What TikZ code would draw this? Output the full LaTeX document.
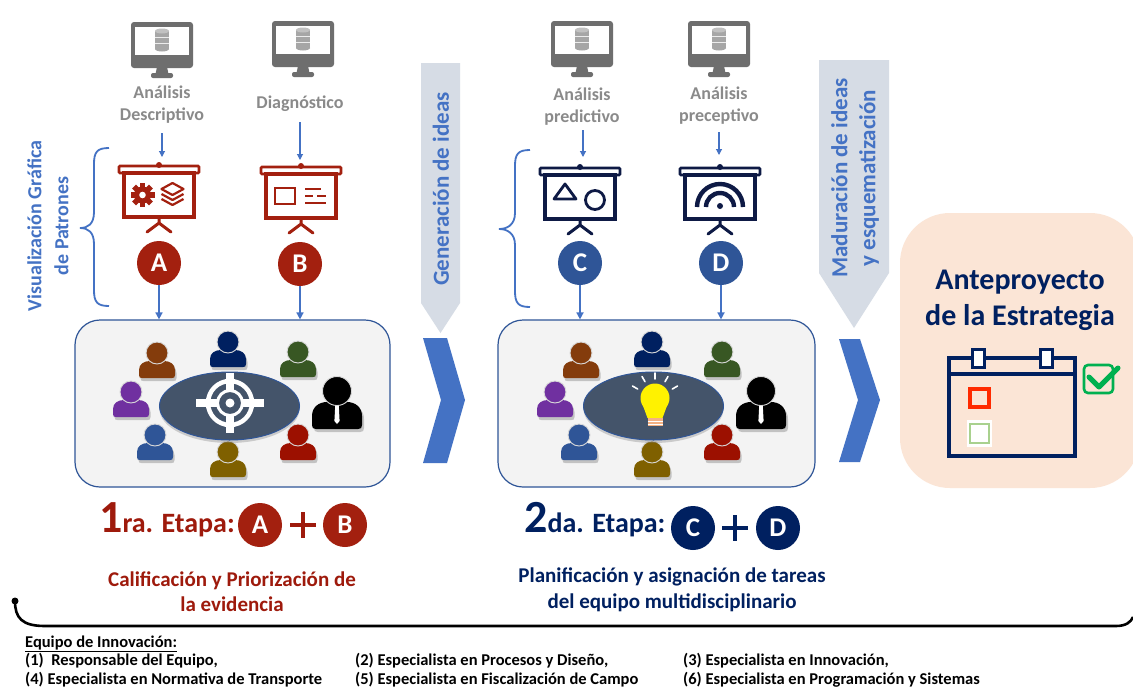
\documentclass[tikz,border=0pt]{standalone}
\usepackage{fontspec}
\setmainfont{Carlito}
\usetikzlibrary{arrows.meta,shadows}

\definecolor{accblue}{HTML}{4472C4}
\definecolor{stagered}{HTML}{9E1A0C}
\definecolor{boardred}{HTML}{A3200F}
\definecolor{navy}{HTML}{002060}
\definecolor{boardnavy}{HTML}{0E1A45}
\definecolor{midblue}{HTML}{2F5597}
\definecolor{slate}{HTML}{44546A}
\definecolor{arrowfill}{HTML}{D6DCE5}
\definecolor{peach}{HTML}{FBE5D6}
\definecolor{txtgray}{HTML}{8A8A8A}
\definecolor{mongray}{HTML}{6E6E6E}
\definecolor{dbgray}{HTML}{A6A6A6}
\definecolor{boxgray}{HTML}{F3F3F3}
\definecolor{pbrown}{HTML}{843C0C}
\definecolor{pnavy}{HTML}{002060}
\definecolor{pgreen}{HTML}{385723}
\definecolor{ppurple}{HTML}{7030A0}
\definecolor{pblue}{HTML}{2F5597}
\definecolor{polive}{HTML}{7F6000}
\definecolor{pred}{HTML}{9C1000}
\definecolor{chkgreen}{HTML}{00B050}
\definecolor{calred}{HTML}{FF2A00}
\definecolor{lightgreen}{HTML}{A9D18E}
\definecolor{bulbbase}{HTML}{F4B183}

\newcommand\setfs[2]{\fontsize{#1}{#2}\selectfont}

\tikzset{
  lbl/.style={inner sep=0pt, align=center},
  feed/.style={accblue, line width=1.1pt, -{Triangle[length=6pt,width=6pt]}},
  drop/.style={accblue, line width=1.6pt, -{Triangle[length=7pt,width=7pt]}},
  lettercirc/.style={circle, minimum size=44pt, inner sep=0pt, text=white,
    font=\bfseries\setfs{27}{27}},
  meetbox/.style={draw=midblue, line width=1.2pt, rounded corners=25pt, fill=boxgray},
  vlabel/.style={lbl, rotate=90, text=accblue, font=\bfseries\setfs{23}{28}},
  brace/.style={accblue, line width=1.8pt},
  pics/monitor/.style={code={
    \fill[mongray, rounded corners=3pt] (-31,0) rectangle (31,46);
    \fill[white] (-27,5) rectangle (27,33);
    \fill[mongray] (-5,45) -- (5,45) -- (6.5,52) -- (-6.5,52) -- cycle;
    \fill[mongray, rounded corners=2pt] (-11,51) rectangle (11,56);
    \fill[dbgray] (-7,9) rectangle (7,27);
    \fill[dbgray] (0,27) ellipse (7 and 2.5);
    \fill[dbgray!70] (0,9) ellipse (7 and 2.5);
    \draw[white!85!gray, line width=0.8] (-7,15) -- (7,15) (-7,21) -- (7,21);
  }},
  pics/board/.style={code={
    \draw[#1, line width=2.6, fill=white, rounded corners=1pt] (-40,2) rectangle (40,9);
    \fill[#1] (0,1) circle (3);
    \draw[#1, line width=3.4, fill=white] (-35,9) rectangle (35,53);
    \draw[#1, line width=3, line cap=round] (0,53) -- (0,59) (-12,68) -- (0,59) -- (12,68);
  }},
  pics/person/.style={code={
    \fill[black, opacity=.2]
      (-16.5,25) .. controls (-16.5,27.5) and (-15.5,28) .. (-13.5,28) -- (16.5,28)
      .. controls (18.5,28) and (19.5,27.5) .. (19.5,25) -- (19.5,20)
      .. controls (19.5,14) and (14.5,11) .. (8.5,11) -- (-5.5,11)
      .. controls (-11.5,11) and (-16.5,14) .. (-16.5,20) -- cycle;
    \fill[#1] (-18,22) .. controls (-18,24.5) and (-17,25) .. (-15,25) -- (15,25)
      .. controls (17,25) and (18,24.5) .. (18,22) -- (18,17)
      .. controls (18,11) and (13,8) .. (7,8) -- (-7,8)
      .. controls (-13,8) and (-18,11) .. (-18,17) -- cycle;
    \fill[#1] (0,0) circle (11);
    \draw[white!70!gray, line width=0.9] (0,0) circle (11);
  }},
  pics/boss/.style={code={
    \fill[black, opacity=.2] (-23,37) .. controls (-23,40) and (-22,41) .. (-19,41) -- (23,41)
      .. controls (26,41) and (27,40) .. (27,37) -- (27,28)
      .. controls (27,19) and (20,14) .. (12,14) -- (-8,14)
      .. controls (-16,14) and (-23,19) .. (-23,28) -- cycle;
    \fill[black] (-25,34) .. controls (-25,37) and (-24,38) .. (-21,38) -- (21,38)
      .. controls (24,38) and (25,37) .. (25,34) -- (25,25)
      .. controls (25,16) and (18,11) .. (10,11) -- (-10,11)
      .. controls (-18,11) and (-25,16) .. (-25,25) -- cycle;
    \fill[white] (-1.8,15) -- (1.8,15) -- (2.6,30) -- (0,33) -- (-2.6,30) -- cycle;
    \fill[black] (0,0) circle (14.5);
    \draw[white!70!gray, line width=0.9] (0,0) circle (14.5);
  }},
  pics/target/.style={code={
    \draw[white, line width=4.5] (0,0) circle (22);
    \draw[white, line width=3] (0,0) circle (12.5);
    \fill[white] (0,0) circle (4.5);
    \draw[white, line width=8] (-34,0) -- (-12,0) (12,0) -- (34,0)
      (0,-30) -- (0,-12) (0,12) -- (0,30);
  }},
  pics/bulb/.style={code={
    \fill[yellow] (0,-1) circle (14.5);
    \fill[yellow] (-13,4) -- (13,4) -- (7.5,19) -- (-7.5,19) -- cycle;
    \fill[bulbbase] (-7.5,19) rectangle (7.5,27);
    \draw[white, line width=1] (-7.5,22) -- (7.5,22) (-7.5,25) -- (7.5,25);
    \foreach \a in {-150,-120,-90,-60,-30}
      \draw[white, line width=1.6, line cap=round] (\a:20) -- (\a:26);
  }},
}

\newcommand\meetingscene{%
  \pic at (157,353) {person=pbrown};
  \pic at (228,342) {person=pnavy};
  \pic at (298,352) {person=pgreen};
  \pic at (131,392) {person=ppurple};
  \pic at (155,435) {person=pblue};
  \pic at (228,452) {person=polive};
  \pic at (298,435) {person=pred};
  \pic at (337,391) {boss};
}

\begin{document}
\begin{tikzpicture}[x=1pt,y=-1pt]
\useasboundingbox (0,0) rectangle (1133,689);
\fill[white] (0,0) rectangle (1133,689);

% ---------- data sources ----------
\pic at (162,22) {monitor};
\pic at (303,21) {monitor};
\pic at (582,21) {monitor};
\pic at (719,21) {monitor};

\begin{scope}[every node/.style={lbl, text=txtgray, font=\bfseries\setfs{18}{22}}]
  \node (lA) at (162,105) {Análisis\\Descriptivo};
  \node (lB) at (300,104) {Diagnóstico};
  \node (lC) at (582,107) {Análisis\\predictivo};
  \node (lD) at (719,106) {Análisis\\preceptivo};
\end{scope}

\coordinate (fA0) at (162,133); \coordinate (fA1) at (162,157);
\coordinate (fB0) at (300,122); \coordinate (fB1) at (300,160);
\coordinate (fC0) at (583,130); \coordinate (fC1) at (583,157);
\coordinate (fD0) at (719,132); \coordinate (fD1) at (719,155);
\draw[feed] (fA0) -- (fA1);
\draw[feed] (fB0) -- (fB1);
\draw[feed] (fC0) -- (fC1);
\draw[feed] (fD0) -- (fD1);

% ---------- presentation boards ----------
\pic at (159,164) {board=boardred};
\pic at (301,165) {board=boardred};
\pic at (580,166) {board=boardnavy};
\pic at (720,166) {board=boardnavy};

% board A: gear and layers
\begin{scope}[shift={(142.5,195)}]
  \fill[boardred] (0,0) circle (8.5);
  \foreach \a in {0,45,...,315}
    \fill[boardred, rotate=\a] (-2.7,-12) rectangle (2.7,-7);
  \fill[white] (0,0) circle (3.3);
\end{scope}
\begin{scope}[shift={(172.5,195)}, boardred, line width=2.2, line join=round]
  \draw[fill=white] (0,-12) -- (11,-6) -- (0,0) -- (-11,-6) -- cycle;
  \draw (-11,-1) -- (0,5) -- (11,-1);
  \draw (-11,4) -- (0,10) -- (11,4);
\end{scope}
% board B: media and text lines
\draw[boardred, line width=2.6] (275,188) rectangle (295,204);
\draw[boardred, line width=2.4] (305,189) -- (321,189) (305,196) -- (313,196) (317,196) -- (326,196) (305,203) -- (326,203);
% board C: shapes
\draw[boardnavy, line width=2.8, line join=round] (565,184) -- (576,199) -- (554,199) -- cycle;
\draw[boardnavy, line width=2.8] (595,200) circle (9.5);
% board D: signal arcs
\draw[boardnavy, line width=4.4] (697,207) arc[start angle=180, end angle=360, radius=23];
\draw[boardnavy, line width=4.4] (706,207) arc[start angle=180, end angle=360, radius=14];
\fill[boardnavy] (720,206) circle (3);

% ---------- letter circles ----------
\node[lettercirc, fill=boardred] (cA) at (159,263) {A};
\node[lettercirc, fill=boardred] (cB) at (300,264) {B};
\node[lettercirc, fill=midblue] (cC) at (580,263) {C};
\node[lettercirc, fill=midblue] (cD) at (721,263) {D};

% ---------- meeting boxes ----------
\node[meetbox, minimum width=315pt, minimum height=167pt] (box1) at (232.5,403.5) {};
\node[meetbox, minimum width=317pt, minimum height=167pt] (box2) at (656.5,403.5) {};

\draw[drop] (cA.south) -- (cA.south |- box1.north);
\draw[drop] (cB.south) -- (cB.south |- box1.north);
\draw[drop] (cC.south) -- (cC.south |- box2.north);
\draw[drop] (cD.south) -- (cD.south |- box2.north);

% team around the table, stage 1
\meetingscene
\fill[slate, drop shadow={opacity=.35, shadow xshift=0pt, shadow yshift=-3pt}]
  (229.5,406) ellipse (70 and 34);
\draw[midblue, line width=1] (229.5,406) ellipse (70 and 34);
\pic at (230,403) {target};

% team around the table, stage 2
\begin{scope}[shift={(424,0)}]
  \meetingscene
  \fill[slate, drop shadow={opacity=.35, shadow xshift=0pt, shadow yshift=-3pt}]
    (229.5,406) ellipse (70 and 34);
  \draw[midblue, line width=1] (229.5,406) ellipse (70 and 34);
  \pic at (231,399) {bulb};
\end{scope}

% ---------- braces ----------
\draw[brace] (109,148) .. controls (97,148) and (94,152) .. (94,164) -- (94,212)
  .. controls (94,224) and (88,228) .. (80,228) .. controls (88,228) and (94,232) .. (94,244)
  -- (94,290) .. controls (94,302) and (97,306) .. (109,306);
\draw[brace] (530,150) .. controls (518,150) and (515,154) .. (515,166) -- (515,213)
  .. controls (515,225) and (507,229) .. (499,229) .. controls (507,229) and (515,233) .. (515,245)
  -- (515,291) .. controls (515,303) and (518,307) .. (530,307);

\node[vlabel, font=\bfseries\setfs{20}{27}] (vis) at (48,226) {Visualización Gráfica\\de Patrones};

% ---------- transition arrows ----------
\fill[arrowfill] (421,63) -- (460,63) -- (460,303) -- (440.5,333) -- (421,303) -- cycle;
\node[vlabel] (gen) at (441,189) {Generación de ideas};
\fill[arrowfill] (819,60) -- (889,60) -- (889,273) -- (854,328) -- (819,273) -- cycle;
\node[vlabel] (mad) at (855,178) {Maduración de ideas\\y esquematización};

\fill[accblue] (423,338) -- (447,338) -- (465,400) -- (447,463) -- (423,463) -- (441,400) -- cycle;
\fill[accblue] (839,339) -- (860,339) -- (880,400) -- (860,462) -- (839,462) -- (858,400) -- cycle;

% ---------- result ----------
\fill[peach, rounded corners=50pt] (900,213) rectangle (1140,488);
\node[lbl, text=navy, font=\bfseries\setfs{30}{36}] (ante) at (1020,300) {Anteproyecto\\de la Estrategia};
\draw[navy, line width=3.5] (949,358) rectangle (1075,456);
\draw[navy, line width=3.5] (949,374) -- (1075,374);
\draw[navy, line width=3, fill=white] (972,349) rectangle (984,367);
\draw[navy, line width=3, fill=white] (1040,349) rectangle (1052,367);
\draw[calred, line width=3.5] (970,389) rectangle (989,407);
\fill[white] (967,420) rectangle (992,447);
\draw[lightgreen, line width=1.4] (970,424) rectangle (989,443);
\draw[chkgreen, line width=2.6, rounded corners=4pt] (1084,365) rectangle (1113,393);
\draw[chkgreen, line width=5, line cap=round, line join=round] (1089,377) -- (1099,387) -- (1118,368);

% ---------- stages ----------
\node[anchor=base west, inner sep=0pt, text=stagered, font=\bfseries] (st1) at (99,532)
  {\setfs{46}{46}1\setfs{28}{28}ra. Etapa:};
\node[lettercirc, fill=boardred] (sA) at (260,525) {A};
\node[lettercirc, fill=boardred] (sB) at (345,525) {B};
\draw[stagered, line width=3.5] (290,525) -- (316,525) (303,512) -- (303,538);

\node[anchor=base west, inner sep=0pt, text=navy, font=\bfseries] (st2) at (524,532)
  {\setfs{46}{46}2\setfs{28}{28}da. Etapa:};
\node[lettercirc, fill=navy] (sC) at (693,528) {C};
\node[lettercirc, fill=navy] (sD) at (778,528) {D};
\draw[navy, line width=3.5] (722,528) -- (748,528) (735,515) -- (735,541);

\node[lbl, text=stagered, font=\bfseries\setfs{21}{25}] (cap1) at (232,592)
  {Calificación y Priorización de\\la evidencia};
\node[lbl, text=navy, font=\bfseries\setfs{21}{26}] (cap2) at (672,590)
  {Planificación y asignación de tareas\\del equipo multidisciplinario};

% ---------- team bracket ----------
\coordinate (brk0) at (15,601);
\coordinate (brk1) at (1133,617);
\fill[black] (brk0) circle (3.5);
\draw[black, line width=2.6] (brk0) .. controls (15,618) and (22,626) .. (45,626) -- (1116,626)
  .. controls (1126,626) and (1131,622) .. (brk1);

\begin{scope}[every node/.style={anchor=base west, inner sep=0pt, font=\bfseries\setfs{16.5}{19}}]
  \node (eq) at (25,647) {\underline{Equipo de Innovación:}};
  \node (r1) at (25,665) {(1)\ \ Responsable del Equipo,};
  \node (r2) at (355,665) {(2) Especialista en Procesos y Diseño,};
  \node (r3) at (683,665) {(3) Especialista en Innovación,};
  \node (r4) at (25,684) {(4) Especialista en Normativa de Transporte};
  \node (r5) at (355,684) {(5) Especialista en Fiscalización de Campo};
  \node (r6) at (683,684) {(6) Especialista en Programación y Sistemas};
\end{scope}
\end{tikzpicture}
\end{document}
